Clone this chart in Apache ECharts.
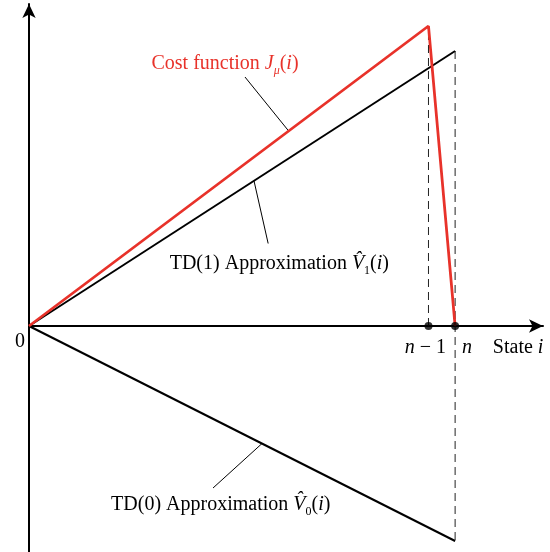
<!DOCTYPE html>
<html><head><meta charset="utf-8">
<script src="https://cdn.jsdelivr.net/npm/echarts@6/dist/echarts.min.js"></script>
<style>html,body{margin:0;padding:0;background:#fff}#c{width:550px;height:552px}</style>
</head><body><div id="c"></div>
<script>
// States along the horizontal axis: 0, n-1, n
const stateX = [0, 15, 16];
// Cost function J_mu(i): rises to n-1, drops to zero at n
const costY = [0, 12, 0];
// TD(1) and TD(0) linear approximations at state 0 and state n
const approxX = [0, 16];
const td1Y = [0, 11];
const td0Y = [0, -8.6];
// Marked states on the axis
const markedX = [15, 16];
// Tick captions
const tickZero = '0';
// Leader lines from captions to curves (data coordinates)
const costLeader = [[8.11, 9.96], [9.75, 7.8]];
const td1Leader = [[8.45, 5.8], [8.98, 3.3]];
const td0Leader = [[6.91, -6.48], [8.75, -4.7]];
// Caption anchors (data coordinates)
const costCaptionAt = [7.36, 10.48];
const td1CaptionAt = [9.4, 2.48];
const td0CaptionAt = [7.2, -7.14];

const FONT = '"Liberation Serif", "Times New Roman", serif';
const xMax = 19.3, yMax = 12.88, yMin = -9.04;

const el = document.getElementById('c');
const chart = echarts.init(el, null, {renderer: 'canvas'});

const zip = (xs, ys) => xs.map((x, k) => [x, ys[k]]);

const lineSeries = (data, color, width, extra) => Object.assign({
  type: 'line', data, symbol: 'none', silent: true, animation: false,
  lineStyle: {color, width}, z: 3
}, extra || {});

const richBase = {
  t: {fontFamily: FONT, fontSize: 20, lineHeight: 26, verticalAlign: 'middle'},
  i: {fontFamily: FONT, fontSize: 20, fontStyle: 'italic', lineHeight: 26, verticalAlign: 'middle'},
  s: {fontFamily: FONT, fontSize: 12, fontStyle: 'italic', lineHeight: 13, verticalAlign: 'bottom'},
  n: {fontFamily: FONT, fontSize: 12, lineHeight: 13, verticalAlign: 'bottom'}
};

chart.setOption({
  animation: false,
  backgroundColor: '#fff',
  grid: {left: 29, right: 7, top: 4, bottom: 0, containLabel: false},
  xAxis: {
    type: 'value', min: 0, max: xMax,
    axisLine: {show: true, onZero: true, symbol: ['none', 'arrow'], symbolSize: [10, 14],
      lineStyle: {color: '#000', width: 2}},
    axisTick: {show: false}, axisLabel: {show: false}, splitLine: {show: false}
  },
  yAxis: {
    type: 'value', min: yMin, max: yMax,
    axisLine: {show: true, onZero: false, symbol: ['none', 'arrow'], symbolSize: [10, 14],
      lineStyle: {color: '#000', width: 2}},
    axisTick: {show: false}, axisLabel: {show: false}, splitLine: {show: false}
  },
  series: [
    // dashed drop lines at n-1 and n
    lineSeries([[markedX[0], 0], [markedX[0], costY[1]]], '#222', 1, {lineStyle: {color: '#222', width: 1, type: [8, 5]}, z: 2}),
    lineSeries([[markedX[1], td1Y[1]], [markedX[1], td0Y[1]]], '#222', 1, {lineStyle: {color: '#222', width: 1, type: [8, 5]}, z: 2}),
    lineSeries(zip(approxX, td1Y), '#000', 2),
    lineSeries(zip(approxX, td0Y), '#000', 2),
    lineSeries(zip(stateX, costY), '#e8322a', 2.8, {z: 4}),
    lineSeries(costLeader, '#000', 1),
    lineSeries(td1Leader, '#000', 1),
    lineSeries(td0Leader, '#000', 1),
    {
      type: 'scatter', data: markedX.map(x => [x, 0]), symbol: 'circle', symbolSize: 8,
      itemStyle: {color: '#000'}, z: 5, silent: true, animation: false
    }
  ]
});

const px = p => chart.convertToPixel({gridIndex: 0}, p);

function richColor(rich, color) {
  Object.keys(rich).forEach(k => { rich[k].color = color; });
  return rich;
}

function caption(at, text, color) {
  const p = px(at);
  return {
    type: 'text', x: p[0], y: p[1], z: 10, silent: true,
    style: {
      text, fill: color, align: 'center', verticalAlign: 'middle',
      rich: richColor(JSON.parse(JSON.stringify(richBase)), color), font: '20px ' + FONT
    }
  };
}

const g = [];
g.push(caption(costCaptionAt, '{t|Cost function }{i|J}{s|μ}{t|(}{i|i}{t|)}', '#e8322a'));
g.push(caption(td1CaptionAt, '{t|TD(1) Approximation }{i|V\u0302}{n|1}{t|(}{i|i}{t|)}', '#000'));
g.push(caption(td0CaptionAt, '{t|TD(0) Approximation }{i|V\u0302}{n|0}{t|(}{i|i}{t|)}', '#000'));

// axis captions
const o = px([0, 0]);
const pPrev = px([markedX[0], 0]);
const pN = px([markedX[1], 0]);
const tickRich = richColor(JSON.parse(JSON.stringify(richBase)), '#000');
const tick = (x, y, text) => ({
  type: 'text', x, y, z: 10, silent: true,
  style: {text, align: 'center', verticalAlign: 'middle', rich: tickRich, font: '20px ' + FONT}
});
g.push(tick(o[0] - 9, o[1] + 16, '{t|' + tickZero + '}'));
g.push(tick(pPrev[0] - 3, pPrev[1] + 22, '{i|n}{t| − 1}'));
g.push(tick(pN[0] + 12, pN[1] + 22, '{i|n}'));
g.push(tick(pN[0] + 63, pN[1] + 22, '{t|State }{i|i}'));

chart.setOption({graphic: g});
</script>
</body></html>
